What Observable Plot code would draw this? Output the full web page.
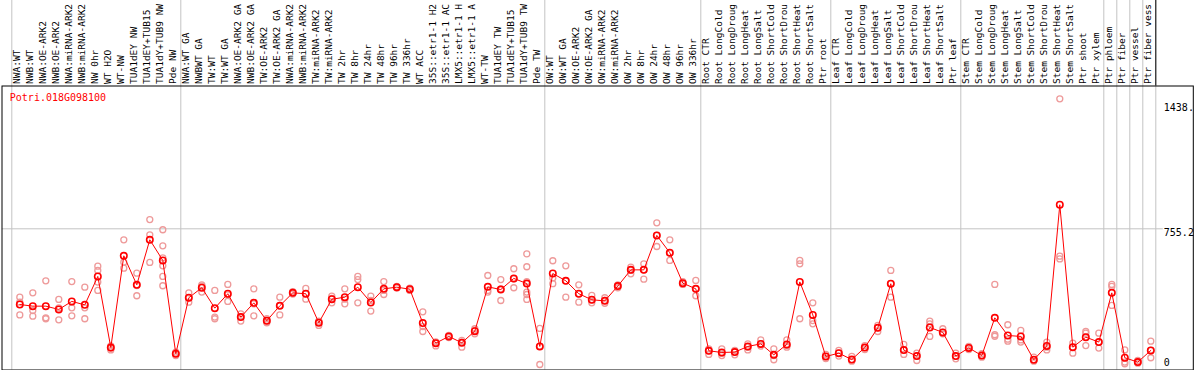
<!DOCTYPE html>
<html>
<head>
<meta charset="utf-8">
<script src="https://cdn.jsdelivr.net/npm/d3@7"></script>
<script src="https://cdn.jsdelivr.net/npm/@observablehq/plot@0.6"></script>
<style>
  html, body { margin: 0; padding: 0; background: #fff; }
  #chart svg { display: block; }
</style>
</head>
<body>
<div id="chart"></div>
<script>
const geneId = "Potri.018G098100";

const labels = [
  "NWA:WT","NWB:WT","NWA:OE-ARK2","NWB:OE-ARK2","NWA:miRNA-ARK2","NWB:miRNA-ARK2","NW 0hr","WT H2O","WT-NW","TUA1dEY NW","TUA1dEY+TUB15","TUA1dY+TUB9 NW","Pde NW",
  "NWA:WT GA","NWBWT GA","TW:WT","TW:WT GA","NWA:OE-ARK2 GA","NWB:OE-ARK2 GA","TW:OE-ARK2","TW:OE-ARK2 GA","NWA:miRNA-ARK2","NWB:miRNA-ARK2","TW:miRNA-ARK2","TW:miRNA-ARK2","TW 2hr","TW 8hr","TW 24hr","TW 48hr","TW 96hr","TW 336hr","WT ACC","35S::etr1-1 H2","35S::etr1-1 AC","LMX5::etr1-1 H","LMX5::etr1-1 A","WT-TW","TUA1dEY TW","TUA1dEY+TUB15","TUA1dY+TUB9 TW","Pde TW",
  "OW:WT","OW:WT GA","OW:OE-ARK2","OW:OE-ARK2 GA","OW:miRNA-ARK2","OW:miRNA-ARK2","OW 2hr","OW 8hr","OW 24hr","OW 48hr","OW 96hr","OW 336hr",
  "Root CTR","Root LongCold","Root LongDroug","Root LongHeat","Root LongSalt","Root ShortCold","Root ShortDrou","Root ShortHeat","Root ShortSalt","Ptr root",
  "Leaf CTR","Leaf LongCold","Leaf LongDroug","Leaf LongHeat","Leaf LongSalt","Leaf ShortCold","Leaf ShortDrou","Leaf ShortHeat","Leaf ShortSalt","Ptr leaf",
  "Stem CTR","Stem LongCold","Stem LongDroug","Stem LongHeat","Stem LongSalt","Stem ShortCold","Stem ShortDrou","Stem ShortHeat","Stem ShortSalt","Ptr shoot",
  "Ptr xylem","Ptr phloem","Ptr fiber","Ptr vessel","Ptr fiber vess"
];

const means = [
  340, 331, 331, 313, 357, 338, 494, 104, 607, 448, 695, 582, 70,
  377, 432, 320, 399, 271, 349, 251, 333, 404, 399, 240, 369, 380, 435, 351, 426, 435, 424, 238, 128, 165, 130, 194, 437, 422, 483, 455, 110,
  510, 470, 399, 366, 360, 441, 530, 530, 719, 624, 457, 426,
  86, 77, 79, 110, 124, 64, 121, 464, 283, 55,
  73, 38, 104, 212, 454, 90, 57, 214, 187, 57,
  102, 60, 267, 170, 165, 37, 113, 887, 106, 161,
  134, 404, 48, 24, 88
];

const replicates = [
  [380, 353, 283], [404, 307, 276], [470, 267, 262], [368, 322, 256], [466, 322, 278], [435, 322, 262], [550, 527, 463, 417], [113, 101, 91], [695, 572, 539], [512, 444, 388], [806, 722, 571], [750, 662, 596, 552, 494, 443], [79, 70, 60],
  [404, 377, 353], [448, 441, 408], [417, 271, 262], [450, 393, 357], [289, 274, 249], [426, 344, 278], [262, 251, 240], [380, 335, 283], [411, 402, 397], [428, 399, 369], [249, 245, 225], [386, 373, 349], [426, 369, 344], [494, 477, 349], [386, 362, 304], [466, 417, 395], [439, 435, 430], [430, 421, 417], [300, 219, 192], [135, 128, 113], [170, 165, 159], [143, 134, 106], [207, 198, 179], [499, 417, 408], [477, 426, 362], [536, 481, 432], [618, 547, 466, 408, 395, 368], [209, 110, 11],
  [580, 486, 454], [552, 470, 380], [448, 399, 353], [390, 366, 349], [377, 362, 347], [448, 441, 432], [545, 527, 508], [563, 530, 479], [788, 719, 658], [695, 622, 582], [466, 457, 450], [472, 426, 388],
  [97, 86, 66], [97, 73, 60], [88, 79, 64], [124, 106, 91], [146, 124, 112], [97, 60, 37], [146, 115, 106], [582, 563, 262], [349, 252, 234], [66, 55, 44],
  [88, 73, 57], [55, 38, 29], [115, 104, 93], [225, 212, 192], [527, 454, 380], [121, 90, 66], [73, 57, 33], [249, 234, 165], [207, 187, 179], [73, 57, 42],
  [110, 102, 93], [70, 60, 51], [450, 174, 166], [229, 150, 139], [198, 146, 134], [51, 37, 29], [134, 106, 91], [1468, 605, 590], [128, 106, 73], [192, 183, 115],
  [183, 134, 101], [450, 439, 335], [91, 24, 15], [33, 24, 18], [139, 88, 48]
];

// indices after which a grey separator is drawn (-1 = left edge)
const groupEnds = [-1, 12, 40, 52, 62, 72, 83, 84, 85, 86, 87];

const gridValues = [755.2];
const yTickTop = [{v: 755.2, t: "755.2"}, {v: 1438, t: "1438."}];
const yTickBottom = [{v: 0, t: "0"}];

const repPoints = replicates.flatMap((r, i) => r.map(v => ({i, v})));
const meanPoints = means.map((v, i) => ({i, v}));

const mono = "DejaVu Sans Mono, monospace";
const grey = "#c4c4c4";

const chart = Plot.plot({
  width: 1194,
  height: 370,
  marginTop: 85.5,
  marginBottom: 0.5,
  marginLeft: 12.8,
  marginRight: 37.2,
  style: {background: "#fff", fontFamily: mono},
  x: {type: "linear", domain: [-0.5, 87.5], axis: null},
  y: {type: "linear", domain: [-19.2, 1538.4], axis: null},
  marks: [
    Plot.ruleX(groupEnds, {x: d => d + 0.5, stroke: grey, strokeWidth: 1, insetTop: -86, dx: -1.5}),
    Plot.ruleX([87], {x: d => d + 0.5, stroke: "#000", strokeWidth: 1, insetTop: -86, insetBottom: 284, dx: -1.5}),
    Plot.ruleY(gridValues, {stroke: grey, strokeWidth: 1, insetLeft: -11, insetRight: -6}),
    Plot.frame({stroke: "#000", strokeWidth: 1, insetLeft: -11.3, insetRight: -36}),
    Plot.text(labels, {x: (d, i) => i, text: d => d, frameAnchor: "top", dy: -2, dx: -2.5, rotate: -90,
      textAnchor: "start", lineAnchor: "middle", fontFamily: mono, fontSize: 9.5, fill: "#000"}),
    Plot.text([geneId], {text: d => d, frameAnchor: "top-left", dx: -3.5, dy: 11.5, textAnchor: "start",
      lineAnchor: "middle", fontFamily: mono, fontSize: 10, fill: "#f00"}),
    Plot.text(yTickTop, {y: "v", text: "t", frameAnchor: "right", dx: 6.5, textAnchor: "start",
      lineAnchor: "top", fontFamily: mono, fontSize: 10, fill: "#000"}),
    Plot.text(yTickBottom, {y: "v", text: "t", frameAnchor: "right", dx: 6.5, dy: -0.5, textAnchor: "start",
      lineAnchor: "bottom", fontFamily: mono, fontSize: 10, fill: "#000"}),
    Plot.dot(repPoints, {x: "i", y: "v", r: 3, stroke: "#ee9a9a", strokeWidth: 1.3, fill: "none"}),
    Plot.line(meanPoints, {x: "i", y: "v", stroke: "#f00", strokeWidth: 1}),
    Plot.dot(meanPoints, {x: "i", y: "v", r: 3.2, stroke: "#f00", strokeWidth: 1.6, fill: "none"})
  ]
});

document.getElementById("chart").appendChild(chart);
</script>
</body>
</html>
